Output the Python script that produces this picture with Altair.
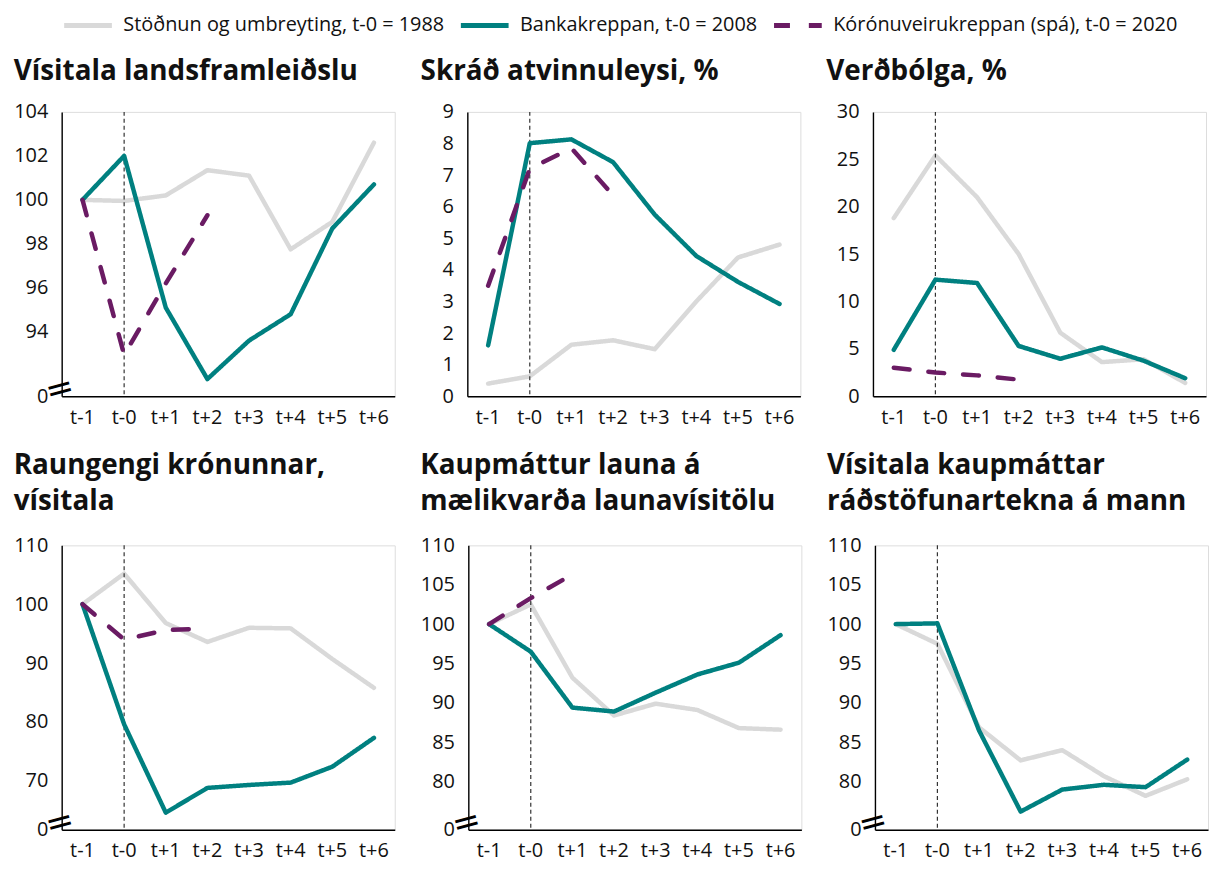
import altair as alt
import pandas as pd

periods = ["t-1", "t-0", "t+1", "t+2", "t+3", "t+4", "t+5", "t+6"]

S1 = "Stöðnun og umbreyting, t-0 = 1988"
S2 = "Bankakreppan, t-0 = 2008"
S3 = "Kórónuveirukreppan (spá), t-0 = 2020"
series_names = [S1, S2, S3]
series_colors = ["#d9d9d9", "#008080", "#6a1b63"]

# Vísitala landsframleiðslu
gdp_1988 = [100, 99.95, 100.2, 101.35, 101.1, 97.75, 99.0, 102.6]
gdp_2008 = [100, 102.0, 95.1, 91.85, 93.6, 94.8, 98.7, 100.7]
gdp_2020 = [100, 92.95, 96.2, 99.3]

# Skráð atvinnuleysi, %
unemp_1988 = [0.4, 0.63, 1.63, 1.77, 1.49, 3.0, 4.39, 4.8]
unemp_2008 = [1.61, 8.01, 8.13, 7.41, 5.75, 4.44, 3.62, 2.92]
unemp_2020 = [3.5, 7.2, 7.85, 6.36]

# Verðbólga, %
infl_1988 = [18.8, 25.4, 21.0, 15.0, 6.7, 3.6, 3.9, 1.4]
infl_2008 = [4.9, 12.3, 11.95, 5.3, 3.95, 5.15, 3.75, 1.9]
infl_2020 = [3.0, 2.5, 2.2, 1.75]

# Raungengi krónunnar, vísitala
fx_1988 = [100, 105.2, 96.8, 93.6, 96.0, 95.9, 90.7, 85.8]
fx_2008 = [100, 79.6, 64.6, 68.8, 69.3, 69.7, 72.4, 77.3]
fx_2020 = [100, 94.0, 95.6, 95.9]

# Kaupmáttur launa á mælikvarða launavísitölu
wage_1988 = [100, 102.5, 93.2, 88.4, 89.9, 89.1, 86.8, 86.6]
wage_2008 = [100, 96.5, 89.4, 88.9, 91.3, 93.6, 95.1, 98.6]
wage_2020 = [100, 103.3, 106.3]

# Vísitala kaupmáttar ráðstöfunartekna á mann
disp_1988 = [100, 97.5, 86.9, 82.7, 84.0, 80.7, 78.2, 80.3]
disp_2008 = [100, 100.1, 86.5, 76.2, 79.0, 79.6, 79.3, 82.8]

TITLE_FONT = "Open Sans"
LABEL_FONT = "Open Sans"

color_scale = alt.Scale(domain=series_names, range=series_colors)
dash_scale = alt.Scale(domain=series_names, range=[[1, 0], [1, 0], [16, 19]])

legend_opts = dict(
    title=None, orient="top", direction="horizontal", symbolType="stroke",
    symbolStrokeWidth=5, symbolSize=2304, labelFontSize=20, labelFont=LABEL_FONT,
    labelColor="#111111", columnPadding=14, labelLimit=500, labelOffset=9,
    offset=22, padding=0, clipHeight=20,
)


def series_df(name, vals):
    return pd.DataFrame({"period": periods[: len(vals)], "series": name, "value": vals})


def panel(title, series, ymin, ymax, ticks, broken):
    values = ([ymin] if broken else []) + ticks
    label_expr = f"datum.value < {ticks[0] - 0.01} ? '0' : datum.label" if broken else "datum.label"
    y_scale = alt.Scale(domain=[ymin, ymax], nice=False, zero=False)
    y_enc = alt.Y(
        "value:Q", scale=y_scale,
        axis=alt.Axis(
            values=values, labelExpr=label_expr, grid=False, ticks=False,
            domainColor="#000000", domainWidth=1.4, labelFontSize=20,
            labelFont=LABEL_FONT, labelColor="#111111", labelPadding=14,
            title=None, minExtent=47, maxExtent=47,
        ),
    )
    x_scale = alt.Scale(domain=periods)
    x_enc = alt.X(
        "period:N", sort=periods, scale=x_scale,
        axis=alt.Axis(
            labelAngle=0, ticks=False, domainColor="#000000", domainWidth=1.4,
            labelFontSize=20, labelFont=LABEL_FONT, labelColor="#111111",
            labelPadding=11, title=None, grid=False,
        ),
    )
    layers = []
    vline = alt.Chart(pd.DataFrame({"period": ["t-0"]})).mark_rule(
        color="#333333", strokeWidth=1.2, strokeDash=[4, 3]
    ).encode(x=alt.X("period:N", sort=periods, scale=x_scale))
    for name, vals in series:
        layers.append(
            alt.Chart(series_df(name, vals)).mark_line(
                strokeWidth=4.5, strokeCap="round", strokeJoin="round"
            ).encode(
                x=x_enc, y=y_enc,
                color=alt.Color("series:N", scale=color_scale, legend=alt.Legend(**legend_opts)),
                strokeDash=alt.StrokeDash("series:N", scale=dash_scale, legend=alt.Legend(**legend_opts)),
            )
        )
    parts = [layers[0], vline] + layers[1:]
    if broken:
        brk = alt.Chart(pd.DataFrame({"value": [ymin]})).mark_text(
            text="=", fontSize=34, angle=345, dy=-7, color="#000000", font="DejaVu Sans"
        ).encode(x=alt.value(0), y=alt.Y("value:Q", scale=y_scale))
        parts.append(brk)
    two_lines = len(title) > 1
    return alt.layer(*parts).properties(
        width=335, height=286,
        title=alt.TitleParams(
            text=title, anchor="start", fontSize=28, font=TITLE_FONT, fontWeight="bold",
            color="#111111", offset=20 if two_lines else 16, lineHeight=36,
        ),
    )


p1 = panel(["Vísitala landsframleiðslu"],
           [(S1, gdp_1988), (S2, gdp_2008), (S3, gdp_2020)],
           91.07, 104, [94, 96, 98, 100, 102, 104], True)
p2 = panel(["Skráð atvinnuleysi, %"],
           [(S1, unemp_1988), (S2, unemp_2008), (S3, unemp_2020)],
           0, 9, [0, 1, 2, 3, 4, 5, 6, 7, 8, 9], False)
p3 = panel(["Verðbólga, %"],
           [(S1, infl_1988), (S2, infl_2008), (S3, infl_2020)],
           0, 30, [0, 5, 10, 15, 20, 25, 30], False)
p4 = panel(["Raungengi krónunnar,", "vísitala"],
           [(S1, fx_1988), (S2, fx_2008), (S3, fx_2020)],
           61.7, 110, [70, 80, 90, 100, 110], True)
p5 = panel(["Kaupmáttur launa á", "mælikvarða launavísitölu"],
           [(S1, wage_1988), (S2, wage_2008), (S3, wage_2020)],
           73.9, 110, [80, 85, 90, 95, 100, 105, 110], True)
p6 = panel(["Vísitala kaupmáttar", "ráðstöfunartekna á mann"],
           [(S1, disp_1988), (S2, disp_2008)],
           73.9, 110, [80, 85, 90, 95, 100, 105, 110], True)

chart = alt.vconcat(
    alt.hconcat(p1, p2, p3, spacing=24),
    alt.hconcat(p4, p5, p6, spacing=24),
    spacing=23,
).properties(
    padding={"left": 5, "top": 5, "right": 0, "bottom": 0}
).configure_view(stroke=None).configure(background="white")

chart.save("out.html", embed_options={"renderer": "svg", "actions": False})
